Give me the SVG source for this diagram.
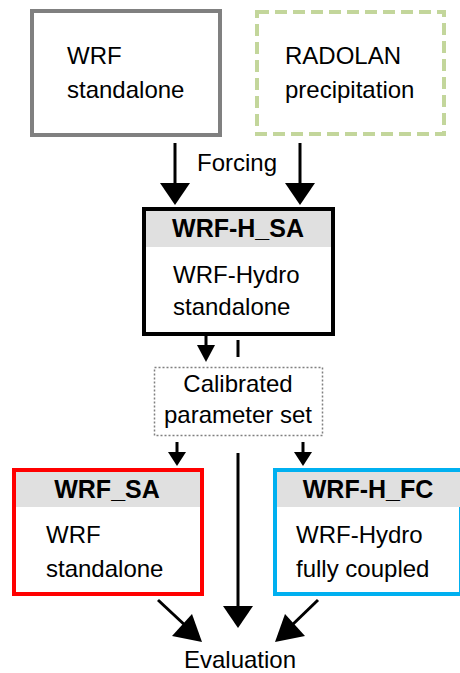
<svg xmlns="http://www.w3.org/2000/svg" width="460" height="673" viewBox="0 0 460 673">
<style>
text{font-family:"Liberation Sans",Arial,sans-serif;font-size:24px;fill:#000}
.b{font-weight:bold;text-anchor:middle;font-size:25px}
.m{text-anchor:middle}
.hdr{fill:#E0E0E0;stroke:none}
.ln{stroke:#000;stroke-width:3;fill:none}
.hd{fill:#000;stroke:none}
</style>
<rect width="460" height="673" fill="#fff"/>
<g id="wrf-standalone-top">
<rect x="32" y="11" width="188" height="124" fill="#fff" stroke="#808080" stroke-width="4"/>
<text x="67" y="64">WRF</text>
<text x="67" y="98">standalone</text>
</g>
<g id="radolan">
<rect x="257" y="12" width="187" height="122" fill="#fff" stroke="#C3D69B" stroke-width="4" stroke-dasharray="12 6"/>
<text x="285" y="64">RADOLAN</text>
<text x="285" y="98">precipitation</text>
</g>
<g id="wrf-h-sa">
<rect x="144" y="209" width="189" height="125" fill="#fff" stroke="#000" stroke-width="4"/>
<rect class="hdr" x="146" y="211" width="185" height="36"/>
<text class="b" x="238" y="237">WRF-H_SA</text>
<text x="173" y="283">WRF-Hydro</text>
<text x="173" y="315">standalone</text>
</g>
<g id="calibrated">
<rect x="154.5" y="367.5" width="168" height="68" fill="#fff" stroke="#808080" stroke-width="1.5" stroke-dasharray="2 2"/>
<text class="m" x="238" y="392">Calibrated</text>
<text class="m" x="238" y="423">parameter set</text>
</g>
<g id="wrf-sa">
<rect x="14" y="470" width="188" height="124" fill="#fff" stroke="#FF0000" stroke-width="4"/>
<rect class="hdr" x="16" y="472" width="184" height="35"/>
<text class="b" x="107" y="498">WRF_SA</text>
<text x="46" y="543">WRF</text>
<text x="46" y="577">standalone</text>
</g>
<g id="wrf-h-fc">
<rect x="275" y="470" width="186" height="124" fill="#fff" stroke="#00B0F0" stroke-width="4"/>
<rect class="hdr" x="277" y="472" width="184" height="35"/>
<text class="b" x="368" y="498">WRF-H_FC</text>
<text x="296" y="543">WRF-Hydro</text>
<text x="296" y="577">fully coupled</text>
</g>
<g id="evaluation">
<text class="m" x="240" y="668">Evaluation</text>
</g>
<g id="forcing-label">
<text x="197" y="171">Forcing</text>
</g>
<g id="connectors">
<line class="ln" x1="175" y1="143" x2="175" y2="184"/>
<polygon class="hd" points="160,183 190,183 175,205"/>
<line class="ln" x1="300" y1="143" x2="300" y2="184"/>
<polygon class="hd" points="285,183 315,183 300,205"/>
<line class="ln" x1="206" y1="336" x2="206" y2="346"/>
<polygon class="hd" points="197,345 215,345 206,362"/>
<line class="ln" x1="238" y1="340" x2="238" y2="357"/>
<line class="ln" x1="177" y1="442" x2="177" y2="454"/>
<polygon class="hd" points="168,452 186,452 177,466"/>
<line class="ln" x1="303" y1="442" x2="303" y2="454"/>
<polygon class="hd" points="294,452 312,452 303,466"/>
<line class="ln" x1="238" y1="453" x2="238" y2="608"/>
<polygon class="hd" points="223,606 253,606 238,628"/>
<line class="ln" x1="158" y1="600" x2="188" y2="628"/>
<polygon class="hd" points="202,642 172,636 192,614"/>
<line class="ln" x1="318" y1="600" x2="289" y2="628"/>
<polygon class="hd" points="275,642 285,614 305,636"/>
</g>
</svg>
